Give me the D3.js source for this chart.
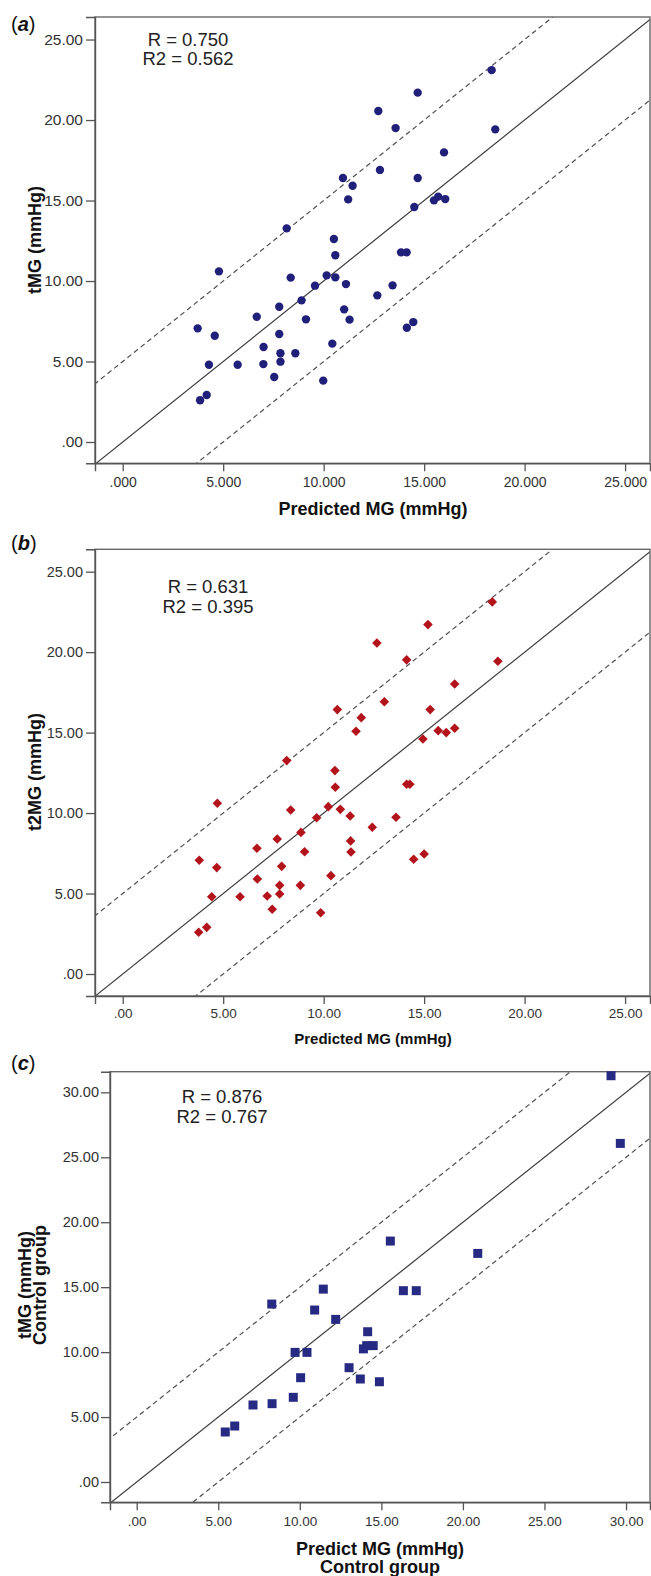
<!DOCTYPE html>
<html><head><meta charset="utf-8">
<script src="https://cdn.jsdelivr.net/npm/d3@7/dist/d3.min.js"></script>
<style>
body{margin:0;background:#fff}
svg{display:block}
text{font-family:"Liberation Sans",Arial,Helvetica,sans-serif}
</style>
</head><body>
<svg id="chart" width="651" height="1576"></svg>
<script>
// ---------- data ----------
// Panel (a): Predicted MG vs tMG
const aPredicted = [18.36,14.68,12.72,13.58,18.54,15.99,12.80,10.96,14.68,11.44,11.22,14.51,15.49,15.70,16.05,10.51,10.58,13.85,14.13,10.15,10.58,11.11,12.67,13.43,11.02,11.29,14.14,14.46,10.43,9.98,4.79,8.36,9.57,8.90,9.12,7.79,6.67,3.73,4.58,7.79,7.01,7.85,8.59,7.85,7.00,5.72,4.29,7.54,4.18,3.85,8.16];
const aTMG       = [23.10,21.70,20.56,19.50,19.42,17.99,16.90,16.40,16.40,15.92,15.07,14.60,15.01,15.24,15.09,12.61,11.60,11.78,11.78,10.35,10.23,9.81,9.11,9.73,8.24,7.60,7.10,7.45,6.11,3.81,10.60,10.21,9.71,8.80,7.62,8.40,7.78,7.06,6.60,6.71,5.90,5.51,5.51,4.99,4.84,4.80,4.80,4.04,2.92,2.59,13.27];
// Panel (b): Predicted MG vs t2MG
const bPredicted = [8.16,18.39,15.19,12.65,14.13,18.67,16.52,13.02,10.68,15.30,11.87,11.61,14.94,15.70,16.10,16.52,10.56,10.58,14.13,14.29,10.23,10.83,11.32,12.42,13.60,11.34,11.36,14.48,15.00,10.36,9.85,4.71,8.36,9.65,8.87,9.05,7.69,6.68,3.81,4.68,7.91,6.70,7.81,8.84,7.81,7.19,5.84,4.43,7.44,4.18,3.78];
const bT2MG      = [13.26,23.12,21.71,20.57,19.52,19.43,18.02,16.92,16.43,16.43,15.93,15.08,14.60,15.12,15.00,15.27,12.64,11.60,11.79,11.79,10.40,10.23,9.82,9.12,9.74,8.27,7.58,7.13,7.46,6.11,3.81,10.61,10.19,9.71,8.80,7.60,8.39,7.81,7.07,6.61,6.69,5.90,5.51,5.51,4.97,4.85,4.80,4.80,4.02,2.90,2.59];
// Panel (c): Control group
const cPredicted = [29.08,29.65,15.55,20.91,11.44,16.35,17.14,8.28,10.91,9.71,10.44,10.05,9.60,7.13,8.30,5.43,6.01,12.20,14.16,13.90,14.10,14.50,13.02,13.71,14.88];
const cTMG       = [31.28,26.07,18.55,17.60,14.85,14.73,14.73,13.70,13.24,9.98,9.98,8.03,6.52,5.93,6.03,3.85,4.31,12.52,11.57,10.25,10.50,10.50,8.80,7.93,7.72];

// tick values and labels
const abTickValues = [0,5,10,15,20,25];
const cTickValues  = [0,5,10,15,20,25,30];
const aXLabels = [".000","5.000","10.000","15.000","20.000","25.000"];
const aYLabels = [".00","5.00","10.00","15.00","20.00","25.00"];
const bXLabels = [".00","5.00","10.00","15.00","20.00","25.00"];
const bYLabels = [".00","5.00","10.00","15.00","20.00","25.00"];
const cXLabels = [".00","5.00","10.00","15.00","20.00","25.00","30.00"];
const cYLabels = [".00","5.00","10.00","15.00","20.00","25.00","30.00"];

// reference lines: y = x + offset
const refOffsets = [0, 5, -5];

// ---------- layout ----------
const svg = d3.select("#chart");

const panels = [
  {key:"a", xs:aPredicted, ys:aTMG, marker:"circle", color:"#20207a",
   px:[95,650], py:[463.3,17], xd:[-1.379,26.24], yd:[-1.323,26.40],
   xTicks:abTickValues, yTicks:abTickValues, xLabels:aXLabels, yLabels:aYLabels,
   xFont:14, yFont:15.5, xPad:6, yPad:3,
   label:{x:11, y:31},
   r:{x:188, y:45.5, lines:["R = 0.750","R2 = 0.562"]},
   xTitle:{x:373, y:515, size:18, lines:["Predicted MG (mmHg)"]},
   yTitle:{x:41, y:240, size:18, lines:["tMG (mmHg)"]}},
  {key:"b", xs:bPredicted, ys:bT2MG, marker:"diamond", color:"#b3141c",
   px:[95,650], py:[996,549.3], xd:[-1.379,26.24], yd:[-1.367,26.39],
   xTicks:abTickValues, yTicks:abTickValues, xLabels:bXLabels, yLabels:bYLabels,
   xFont:13.5, yFont:14.5, xPad:4, yPad:3,
   label:{x:11, y:550},
   r:{x:208, y:593, lines:["R = 0.631","R2 = 0.395"]},
   xTitle:{x:373, y:1044, size:15, lines:["Predicted MG (mmHg)"]},
   yTitle:{x:41, y:772, size:18, lines:["t2MG (mmHg)"]}},
  {key:"c", xs:cPredicted, ys:cTMG, marker:"square", color:"#262a82",
   px:[110,650], py:[1502.3,1071.7], xd:[-1.637,31.47], yd:[-1.563,31.59],
   xTicks:cTickValues, yTicks:cTickValues, xLabels:cXLabels, yLabels:cYLabels,
   xFont:13.5, yFont:14.5, xPad:6, yPad:2,
   label:{x:11, y:1070},
   r:{x:222, y:1103, lines:["R = 0.876","R2 = 0.767"]},
   xTitle:{x:380, y:1555, size:18, lines:["Predict MG (mmHg)","Control group"]},
   yTitle:{x:31, y:1285, size:18, lines:["tMG (mmHg)","Control group"]}}
];

panels.forEach(drawPanel);

function drawPanel(p){
  const g = svg.append("g");
  const x = d3.scaleLinear().domain(p.xd).range(p.px);
  const y = d3.scaleLinear().domain(p.yd).range(p.py);
  const left = p.px[0], right = p.px[1], top = p.py[1], bottom = p.py[0];

  const clipId = "clip-" + p.key;
  g.append("clipPath").attr("id", clipId).append("rect")
    .attr("x", left).attr("y", top).attr("width", right-left).attr("height", bottom-top);

  // reference lines
  const lg = g.append("g").attr("clip-path", `url(#${clipId})`);
  refOffsets.forEach(off => {
    lg.append("line")
      .attr("x1", x(-10)).attr("y1", y(-10+off))
      .attr("x2", x(60)).attr("y2", y(60+off))
      .attr("stroke", off===0 ? "#3a3a3a" : "#505050")
      .attr("stroke-width", 1.2)
      .attr("stroke-dasharray", off===0 ? null : "5,3.5");
  });

  // frame
  g.append("rect").attr("x", left).attr("y", top)
    .attr("width", right-left).attr("height", bottom-top)
    .attr("fill","none").attr("stroke","#666").attr("stroke-width",1.4);

  // axes
  const ya = g.append("g").attr("transform", `translate(${left},0)`)
    .call(d3.axisLeft(y).tickValues(p.yTicks).tickFormat((d,i)=>p.yLabels[i]).tickSize(9).tickPadding(p.yPad));
  const xa = g.append("g").attr("transform", `translate(0,${bottom})`)
    .call(d3.axisBottom(x).tickValues(p.xTicks).tickFormat((d,i)=>p.xLabels[i]).tickSize(8).tickPadding(p.xPad));
  [ya, xa].forEach(a => {
    a.select(".domain").attr("stroke","#555").attr("stroke-width",1.4);
    a.selectAll(".tick line").attr("stroke","#555").attr("stroke-width",1.3);
    a.selectAll(".tick text").attr("fill","#333").style("font-family",'"Liberation Sans",Arial,sans-serif');
  });
  ya.selectAll(".tick text").style("font-size", p.yFont+"px");
  xa.selectAll(".tick text").style("font-size", p.xFont+"px");

  // points
  const pts = g.append("g").selectAll("path").data(p.xs.map((v,i)=>[v,p.ys[i]])).join("path")
    .attr("transform", d => `translate(${x(d[0])},${y(d[1])})`)
    .attr("fill", p.color);
  if (p.marker === "circle") pts.attr("d", d3.symbol(d3.symbolCircle, 55)());
  else if (p.marker === "diamond") pts.attr("d", "M0,-4.8L4.8,0L0,4.8L-4.8,0Z");
  else pts.attr("d", "M-4.5,-4.5H4.5V4.5H-4.5Z");

  // panel label
  const lab = g.append("text").attr("x", p.label.x).attr("y", p.label.y)
    .style("font-size","20px").attr("fill","#111");
  lab.append("tspan").text("(");
  lab.append("tspan").style("font-weight","bold").style("font-style","italic").text(p.key);
  lab.append("tspan").text(")");

  // R text
  p.r.lines.forEach((t,i) => {
    g.append("text").attr("x", p.r.x).attr("y", p.r.y + i*19.5)
      .attr("text-anchor","middle").style("font-size","18.5px").attr("fill","#222").text(t);
  });

  // x title
  p.xTitle.lines.forEach((t,i) => {
    g.append("text").attr("x", p.xTitle.x).attr("y", p.xTitle.y + i*18)
      .attr("text-anchor","middle").style("font-size", p.xTitle.size+"px")
      .style("font-weight","bold").attr("fill","#111").text(t);
  });
  // y title
  p.yTitle.lines.forEach((t,i) => {
    g.append("text")
      .attr("transform", `translate(${p.yTitle.x + i*15},${p.yTitle.y}) rotate(-90)`)
      .attr("text-anchor","middle").style("font-size", p.yTitle.size+"px")
      .style("font-weight","bold").attr("fill","#111").text(t);
  });
}
</script>
</body></html>
